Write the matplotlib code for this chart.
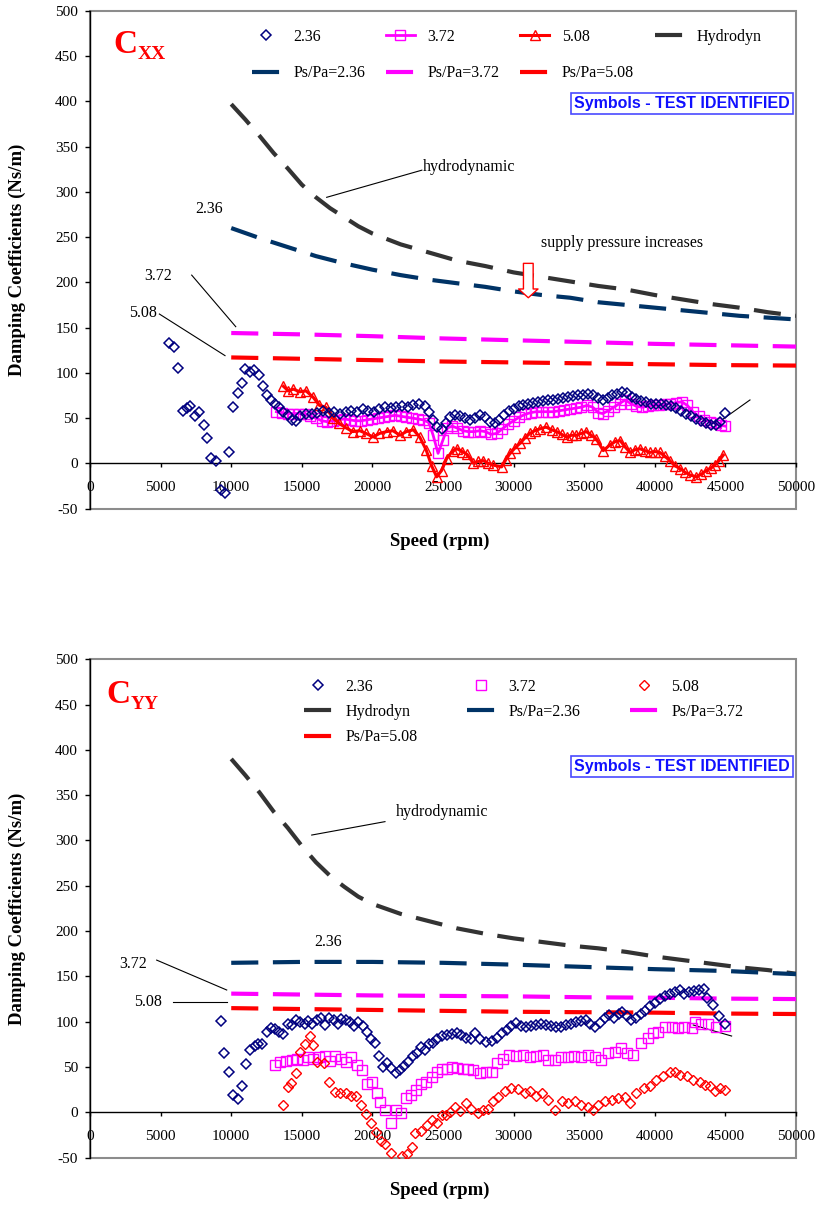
import numpy as np
import matplotlib.pyplot as plt

plt.rcParams['font.family'] = ['Liberation Serif', 'DejaVu Serif']
plt.rcParams['axes.unicode_minus'] = False

# ---------------- Cxx : measured (test identified) ----------------
cxx_236_rpm = [5600, 5950, 6250, 6550, 6850, 7100, 7450, 7750, 8050, 8300,
               8600, 8900, 9250, 9550, 9850, 10150, 10450, 10750, 11000, 11300,
               11600, 11950, 12250, 12500, 12800, 13100, 13400, 13700, 14000, 14300,
               14600, 14900, 15300, 15700, 16100, 16500, 16900, 17300, 17700, 18100,
               18500, 18900, 19300, 19700, 20100, 20500, 20900, 21300, 21700, 22100,
               22500, 22900, 23300, 23700, 24000, 24300, 24600, 24900, 25200, 25500,
               25850, 26200, 26550, 26900, 27250, 27600, 27950, 28300, 28650, 29000,
               29350, 29700, 30000, 30350, 30700, 31050, 31400, 31750, 32100, 32450,
               32800, 33150, 33500, 33850, 34200, 34550, 34900, 35250, 35600, 35950,
               36300, 36650, 37000, 37350, 37700, 38000, 38350, 38700, 39050, 39400,
               39750, 40100, 40450, 40800, 41150, 41500, 41850, 42200, 42550, 42900,
               43250, 43600, 43950, 44300, 44650, 45000]
cxx_236 = [133, 129, 105, 58, 61, 63, 52, 57, 42, 28,
           6, 3, -30, -33, 13, 62, 78, 89, 104, 101,
           103, 98, 85, 75, 70, 66, 62, 57, 53, 48,
           47, 52, 55, 54, 56, 58, 56, 57, 55, 57,
           58, 57, 60, 58, 57, 60, 62, 61, 62, 63,
           62, 64, 65, 63, 57, 48, 40, 38, 45, 51,
           53, 52, 50, 48, 50, 53, 51, 46, 45, 48,
           53, 58, 60, 63, 64, 66, 67, 68, 69, 70,
           70, 71, 72, 73, 74, 75, 76, 77, 76, 72,
           70, 72, 75, 77, 79, 78, 73, 71, 69, 68,
           66, 66, 65, 64, 63, 61, 58, 55, 52, 49,
           47, 45, 42, 42, 46, 56]

cxx_372_rpm = [13200, 13600, 14000, 14400, 14800, 15200, 15600, 16000, 16400, 16800,
               17200, 17600, 18000, 18400, 18800, 19200, 19600, 20000, 20400, 20800,
               21200, 21600, 22000, 22400, 22800, 23200, 23600, 24000, 24300, 24650,
               25000, 25300, 25650, 26000, 26400, 26800, 27200, 27600, 28000, 28400,
               28800, 29200, 29600, 30000, 30400, 30800, 31200, 31600, 32000, 32400,
               32800, 33200, 33600, 34000, 34400, 34800, 35200, 35600, 36000, 36300,
               36700, 37100, 37500, 37900, 38300, 38700, 39100, 39500, 39900, 40300,
               40700, 41100, 41500, 41900, 42300, 42700, 43100, 43500, 43900, 44300,
               44700, 45000]
cxx_372 = [57, 56, 55, 55, 55, 54, 52, 50, 47, 46,
           47, 48, 49, 48, 47, 47, 48, 49, 50, 51,
           52, 53, 52, 51, 50, 49, 48, 45, 31, 11,
           26, 39, 41, 39, 36, 35, 35, 36, 35, 32,
           33, 38, 43, 47, 51, 54, 56, 57, 57, 57,
           57, 58, 59, 60, 61, 62, 64, 62, 56, 55,
           58, 62, 66, 70, 66, 63, 62, 63, 64, 64,
           65, 66, 67, 68, 64, 57, 52, 48, 46, 44,
           42, 41]

cxx_508_rpm = [13700, 14050, 14400, 14850, 15300, 15800, 16250, 16700, 17200, 17650,
               18150, 18600, 19100, 19550, 20050, 20500, 21000, 21450, 21950, 22400,
               22900, 23350, 23800, 24200, 24550, 24900, 25250, 25700, 26000, 26350,
               26700, 27150, 27500, 27850, 28200, 28550, 29150, 29450, 29750, 30100,
               30450, 30800, 31150, 31500, 31850, 32300, 32700, 33050, 33400, 33750,
               34100, 34450, 34800, 35150, 35500, 35850, 36350, 36800, 37200, 37550,
               37900, 38250, 38600, 38950, 39300, 39650, 40000, 40350, 40700, 41050,
               41450, 41800, 42150, 42500, 42950, 43300, 43650, 44000, 44250, 44550,
               44850]
cxx_508 = [85, 80, 82, 79, 80, 73, 64, 62, 50, 44,
           39, 35, 36, 33, 29, 33, 35, 36, 31, 35,
           37, 29, 15, -3, -15, -8, 5, 14, 16, 13,
           10, 0, 2, 3, 0, -2, -4, 4, 11, 17,
           22, 28, 33, 36, 38, 40, 37, 35, 32, 29,
           31, 31, 33, 35, 31, 27, 14, 20, 24, 25,
           18, 12, 15, 16, 14, 12, 13, 12, 8, 3,
           -3, -6, -10, -13, -15, -12, -8, -5, -2, 3,
           9]

# ---------------- Cxx : predictions ----------------
cxx_hyd_rpm = [10000, 11000, 12000, 13000, 14000, 15000, 16000, 17000, 18000, 19000,
               20000, 22000, 24000, 26000, 28000, 30000, 32000, 34000, 36000, 38000,
               40000, 42000, 44000, 46000, 48000, 50000]
cxx_hyd = [397, 380, 362, 343, 326, 308, 294, 282, 272, 262,
           254, 242, 233, 224, 218, 211, 206, 201, 196, 192,
           186, 181, 176, 172, 167, 163]
cxx_p236_rpm = [10000, 12000, 14000, 16000, 18000, 20000, 22000, 24000, 26000, 28000,
                30000, 32000, 34000, 36000, 38000, 40000, 42000, 44000, 46000, 48000, 50000]
cxx_p236 = [260, 249, 239, 229, 221, 214, 208, 203, 199, 195,
            190, 186, 183, 178, 175, 172, 169, 166, 163, 161, 159]
pred_rpm = [10000, 15000, 20000, 25000, 30000, 35000, 40000, 45000, 50000]
cxx_p372 = [144, 142.5, 140.5, 138, 136, 134, 132, 130.5, 129]
cxx_p508 = [117, 115.5, 114, 112.5, 111.5, 110.5, 109.5, 108.5, 108]

# ---------------- Cyy : measured ----------------
cyy_236_rpm = [9250, 9500, 9850, 10150, 10450, 10750, 11050, 11350, 11650, 11900,
               12200, 12500, 12800, 13100, 13400, 13700, 14000, 14300, 14600, 14900,
               15200, 15450, 15750, 16050, 16350, 16650, 16950, 17250, 17550, 17800,
               18100, 18400, 18700, 19000, 19300, 19600, 19900, 20200, 20500, 20750,
               21050, 21350, 21650, 21950, 22250, 22550, 22850, 23150, 23450, 23700,
               24000, 24300, 24600, 24900, 25250, 25650, 26000, 26300, 26650, 26950,
               27250, 27650, 28050, 28450, 28800, 29150, 29500, 29850, 30200, 30550,
               30900, 31250, 31600, 31950, 32300, 32650, 33000, 33350, 33700, 34050,
               34400, 34750, 35100, 35400, 35750, 36100, 36450, 36750, 37100, 37450,
               37700, 38000, 38300, 38650, 39000, 39300, 39650, 40000, 40350, 40700,
               41050, 41400, 41750, 42100, 42450, 42800, 43150, 43450, 43700, 44100,
               44550, 44950]
cyy_236 = [101, 66, 44, 19, 15, 29, 53, 69, 73, 75,
           75, 89, 93, 92, 89, 86, 97, 96, 102, 100,
           98, 101, 98, 102, 104, 96, 104, 102, 98, 103,
           102, 100, 95, 100, 95, 89, 81, 77, 62, 50,
           54, 49, 43, 47, 51, 56, 62, 65, 72, 69,
           75, 77, 81, 84, 85, 86, 88, 85, 82, 81,
           87, 81, 78, 79, 82, 87, 91, 95, 99, 95,
           94, 95, 96, 97, 96, 95, 94, 94, 96, 98,
           100, 101, 102, 98, 94, 99, 104, 107, 104, 108,
           111, 106, 102, 104, 108, 112, 117, 121, 125, 128,
           131, 133, 135, 131, 133, 134, 135, 136, 126, 119,
           106, 98]

cyy_372_rpm = [13100, 13450, 13900, 14300, 14650, 15100, 15450, 15800, 16250, 16650,
               17000, 17350, 17800, 18150, 18500, 18900, 19250, 19600, 19950, 20300,
               20550, 20900, 21350, 21700, 22050, 22400, 22750, 23100, 23450, 23800,
               24200, 24550, 24900, 25250, 25650, 26000, 26400, 26750, 27150, 27600,
               28050, 28450, 28800, 29250, 29700, 30200, 30650, 31150, 31600, 32050,
               32450, 32900, 33350, 33850, 34300, 34800, 35250, 35750, 36200, 36700,
               37150, 37600, 38000, 38450, 39050, 39500, 39900, 40250, 40700, 41200,
               41650, 42100, 42600, 42850, 43300, 43800, 44350, 44950]
cyy_372 = [52, 56, 57, 58, 59, 58, 61, 59, 61, 62,
           57, 62, 59, 55, 61, 52, 47, 31, 33, 21,
           11, 3, -12, 3, -1, 16, 19, 25, 31, 34,
           39, 44, 48, 48, 50, 49, 48, 48, 47, 43,
           45, 44, 54, 59, 63, 62, 63, 61, 62, 63,
           58, 58, 61, 61, 62, 61, 63, 61, 58, 65,
           67, 71, 65, 63, 76, 82, 87, 89, 94, 94,
           93, 94, 93, 100, 98, 98, 94, 95]

cyy_508_rpm = [13700, 14000, 14250, 14600, 14900, 15200, 15550, 15770, 16100, 16550,
               16950, 17350, 17700, 18100, 18450, 18850, 19200, 19550, 19900, 20250,
               20600, 20900, 21300, 22100, 22450, 22800, 23050, 23450, 23850, 24200,
               24550, 24900, 25200, 25500, 25850, 26200, 26650, 27000, 27500, 27850,
               28200, 28550, 28900, 29400, 29850, 30300, 30800, 31150, 31600, 32000,
               32450, 32900, 33400, 33850, 34350, 34800, 35300, 35650, 36000, 36450,
               36950, 37400, 37900, 38250, 38700, 39200, 39650, 40100, 40600, 41100,
               41450, 41800, 42250, 42700, 43200, 43550, 43900, 44250, 44600, 44950]
cyy_508 = [8, 28, 32, 43, 67, 75, 84, 74, 56, 54,
           34, 22, 21, 21, 18, 18, 8, -2, -12, -22,
           -32, -35, -45, -48, -46, -38, -23, -21, -14, -8,
           -12, -3, -3, 0, 6, 2, 10, 4, -1, 3,
           4, 12, 17, 23, 27, 26, 21, 23, 18, 21,
           14, 3, 12, 10, 12, 8, 6, 3, 8, 12,
           14, 16, 17, 10, 21, 27, 29, 36, 40, 44,
           45, 41, 40, 36, 34, 30, 29, 23, 27, 25]

# ---------------- Cyy : predictions ----------------
cyy_hyd = [390, 372, 353, 332, 314, 294, 276, 261, 249, 238,
           230, 219, 211, 203, 197, 192, 188, 184, 181, 177,
           172, 168, 164, 160, 157, 153]
cyy_p236 = [165, 166, 166, 165, 163, 160.5, 158, 156, 152.5]
cyy_p372 = [131, 130, 129, 128.5, 128, 127, 126.5, 125.5, 125]
cyy_p508 = [115, 114, 113, 112, 111, 110.5, 110, 109, 108.5]

NAVY = '#000080'
MAG = '#ff00ff'
RED = '#ff0000'
HYD = '#333333'
DARKBLUE = '#003366'
DASH = dict(lw=3.0, dashes=(6.5, 3.5), solid_capstyle='butt', dash_capstyle='butt')


def style_axes(ax):
    ax.set_xlim(0, 50000)
    ax.set_ylim(-50, 500)
    ax.set_xticks(np.arange(0, 50001, 5000))
    ax.set_yticks(np.arange(-50, 501, 50))
    ax.spines['top'].set_visible(False)
    ax.spines['right'].set_visible(False)
    ax.spines['bottom'].set_position(('data', 0))
    ax.spines['left'].set_linewidth(1.0)
    ax.spines['bottom'].set_linewidth(1.0)
    ax.patch.set_edgecolor('#8c8c8c')
    ax.patch.set_linewidth(1.5)
    ax.tick_params(axis='x', direction='out', length=3, width=1, pad=10, labelsize=11)
    ax.tick_params(axis='y', direction='out', length=3.6, width=1, pad=5, labelsize=11)
    ax.set_xlabel('Speed (rpm)', fontsize=13.5, fontweight='bold')
    ax.xaxis.set_label_coords(0.496, -0.049)
    ax.set_ylabel('Damping Coefficients (Ns/m)', fontsize=13.5, fontweight='bold')
    ax.yaxis.set_label_coords(-0.091, 0.5)


def title(ax, x, y, sub):
    c = ax.text(x, y, 'C', transform=ax.transAxes, fontsize=24, fontweight='bold',
                color=RED, ha='left', va='baseline')
    ax.annotate(sub, xy=(1, 0), xycoords=c, xytext=(0.5, -2.0), textcoords='offset points',
                fontsize=14, fontweight='bold', color=RED, ha='left', va='bottom')


def tag(ax, y):
    ax.text(0.8385, y, 'Symbols - TEST IDENTIFIED', transform=ax.transAxes,
            family='Liberation Sans', fontsize=11.5, fontweight='bold', color='#1010ff',
            ha='center', va='center',
            bbox=dict(boxstyle='square,pad=0.18', fc='white', ec='#4a4aff', lw=1.2))


def leader(ax, x0, y0, x1, y1):
    ax.plot([x0, x1], [y0, y1], color='black', lw=0.8, zorder=1)


fig = plt.figure(figsize=(8.17, 12.05), dpi=100)
ax1 = fig.add_axes([0.1102, 0.578, 0.8641, 0.4129])
ax2 = fig.add_axes([0.1102, 0.0393, 0.8641, 0.4136])

# ---------------- Cxx ----------------
style_axes(ax1)
h_hyd, = ax1.plot(cxx_hyd_rpm, cxx_hyd, color=HYD, label='Hydrodyn', **DASH)
h_p236, = ax1.plot(cxx_p236_rpm, cxx_p236, color=DARKBLUE, label='Ps/Pa=2.36', **DASH)
h_p372, = ax1.plot(pred_rpm, cxx_p372, color=MAG, label='Ps/Pa=3.72', **DASH)
h_p508, = ax1.plot(pred_rpm, cxx_p508, color=RED, label='Ps/Pa=5.08', **DASH)
h_236, = ax1.plot(cxx_236_rpm, cxx_236, ls='none', marker='D', ms=5.5, mfc='none',
                  mec=NAVY, mew=1.1, label='2.36', zorder=4)
h_372, = ax1.plot(cxx_372_rpm, cxx_372, color=MAG, lw=2.0, marker='s', ms=7, mfc='none',
                  mec=MAG, mew=1.0, label='3.72', zorder=3)
h_508, = ax1.plot(cxx_508_rpm, cxx_508, color=RED, lw=2.2, marker='^', ms=7, mfc='none',
                  mec=RED, mew=1.0, label='5.08', zorder=3)

ax1.legend(handles=[h_236, h_p236, h_372, h_p372, h_508, h_p508, h_hyd], ncol=4,
           loc='upper left', bbox_to_anchor=(0.229, 0.964), frameon=False, fontsize=11.5,
           handlelength=1.8, handletextpad=0.8, columnspacing=1.3, labelspacing=1.29,
           borderpad=0, borderaxespad=0, numpoints=1)
title(ax1, 0.0326, 0.9156, 'XX')
tag(ax1, 0.814)

ax1.text(23580, 327, 'hydrodynamic', fontsize=11.5, ha='left', va='center')
leader(ax1, 16760, 294, 23500, 324)
ax1.text(8430, 281.6, '2.36', fontsize=11.5, ha='center', va='center')
ax1.text(4840, 207, '3.72', fontsize=11.5, ha='center', va='center')
leader(ax1, 7200, 208, 10320, 151)
ax1.text(3780, 166.6, '5.08', fontsize=11.5, ha='center', va='center')
leader(ax1, 4910, 165, 9560, 119)
ax1.text(37650, 243.6, 'supply pressure increases', fontsize=11.5, ha='center', va='center')
ax1.annotate('', xy=(31040, 183), xytext=(31040, 221),
             arrowprops=dict(arrowstyle='simple,head_length=0.45,head_width=1.0,tail_width=0.5',
                             fc='white', ec=RED, lw=1.0, shrinkA=0, shrinkB=0,
                             mutation_scale=14))
leader(ax1, 44730, 47.7, 46740, 70)

# ---------------- Cyy ----------------
style_axes(ax2)
g_hyd, = ax2.plot(cxx_hyd_rpm, cyy_hyd, color=HYD, label='Hydrodyn', **DASH)
g_p236, = ax2.plot(pred_rpm, cyy_p236, color=DARKBLUE, label='Ps/Pa=2.36', **DASH)
g_p372, = ax2.plot(pred_rpm, cyy_p372, color=MAG, label='Ps/Pa=3.72', **DASH)
g_p508, = ax2.plot(pred_rpm, cyy_p508, color=RED, label='Ps/Pa=5.08', **DASH)
g_236, = ax2.plot(cyy_236_rpm, cyy_236, ls='none', marker='D', ms=5.5, mfc='none',
                  mec=NAVY, mew=1.1, label='2.36', zorder=4)
g_372, = ax2.plot(cyy_372_rpm, cyy_372, ls='none', marker='s', ms=7.5, mfc='none',
                  mec=MAG, mew=1.0, label='3.72', zorder=3)
g_508, = ax2.plot(cyy_508_rpm, cyy_508, ls='none', marker='D', ms=5.5, mfc='none',
                  mec=RED, mew=1.0, label='5.08', zorder=3)

ax2.legend(handles=[g_236, g_hyd, g_p508, g_372, g_p236, g_508, g_p372], ncol=3,
           loc='upper left', bbox_to_anchor=(0.303, 0.961), frameon=False, fontsize=11.5,
           handlelength=1.8, handletextpad=0.8, columnspacing=3.1, labelspacing=0.58,
           borderpad=0, borderaxespad=0, numpoints=1)
title(ax2, 0.0227, 0.912, 'YY')
tag(ax2, 0.785)

ax2.text(21670, 331.8, 'hydrodynamic', fontsize=11.5, ha='left', va='center')
leader(ax2, 15700, 306, 20890, 320.8)
ax2.text(16880, 188.3, '2.36', fontsize=11.5, ha='center', va='center')
ax2.text(3070, 163.7, '3.72', fontsize=11.5, ha='center', va='center')
leader(ax2, 4720, 168, 9680, 135)
ax2.text(4130, 121.4, '5.08', fontsize=11.5, ha='center', va='center')
leader(ax2, 5900, 121.4, 9680, 121.4)
leader(ax2, 42720, 96.4, 45440, 84.2)

fig.savefig('out.png', dpi=100)
